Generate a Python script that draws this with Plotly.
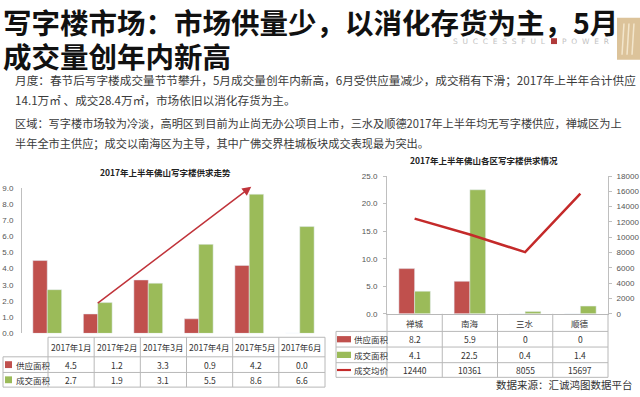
import plotly.graph_objects as go

W, H = 640, 397

# ---------------- data ----------------
months = ['2017年1月', '2017年2月', '2017年3月', '2017年4月', '2017年5月', '2017年6月']
supply_month = [4.5, 1.2, 3.3, 0.9, 4.2, 0.0]
deal_month = [2.7, 1.9, 3.1, 5.5, 8.6, 6.6]
left_ticks = [0, 1, 2, 3, 4, 5, 6, 7, 8, 9]

districts = ['禅城', '南海', '三水', '顺德']
supply_dist = [8.2, 5.9, 0, 0]
deal_dist = [4.1, 22.5, 0.4, 1.4]
price_dist = [12440, 10361, 8055, 15697]
right_ticks = [0, 5, 10, 15, 20, 25]
price_ticks = [0, 2000, 4000, 6000, 8000, 10000, 12000, 14000, 16000, 18000]

series_names = ['供应面积', '成交面积', '成交均价']
trend_arrow_start = (0.97, 1.8)   # (month index, value)
trend_arrow_end = (4.04, 9.06)

title_lines = ['写字楼市场：市场供量少，以消化存货为主，5月', '成交量创年内新高']
body_lines = [
    '月度：春节后写字楼成交量节节攀升，5月成交量创年内新高，6月受供应量减少，成交稍有下滑；2017年上半年合计供应',
    '14.1万㎡ 、成交28.4万㎡，市场依旧以消化存货为主。',
    '区域：写字楼市场较为冷淡，高明区到目前为止尚无办公项目上市，三水及顺德2017年上半年均无写字楼供应，禅城区为上',
    '半年全市主供应；成交以南海区为主导，其中广佛交界桂城板块成交表现最为突出。',
]
left_title = '2017年上半年佛山写字楼供求走势'
right_title = '2017年上半年佛山各区写字楼供求情况'
source_text = '数据来源：汇诚鸿图数据平台'
logo_words = ['S  U  C  C  E  S  S  F  U  L', 'P  O  W  E  R']

# ---------------- style ----------------
RED = '#c0504d'
GREEN = '#9bbb59'
LINE_RED = '#c42a2a'
GRID = '#bfbfbf'
TXT = '#333333'
FONT = 'Noto Sans CJK SC'


def px(x):
    return x / W


def py(y):
    return 1 - y / H


fig = go.Figure()
fig.add_bar(x=months, y=supply_month, marker_color=RED, name=series_names[0],
            xaxis='x', yaxis='y')
fig.add_bar(x=months, y=deal_month, marker_color=GREEN, name=series_names[1],
            xaxis='x', yaxis='y')
fig.add_bar(x=districts, y=supply_dist, marker_color=RED, name=series_names[0],
            xaxis='x2', yaxis='y2')
fig.add_bar(x=districts, y=deal_dist, marker_color=GREEN, name=series_names[1],
            xaxis='x2', yaxis='y2')
fig.add_scatter(x=districts, y=price_dist, mode='lines', name=series_names[2],
                line=dict(color=LINE_RED, width=2.5), xaxis='x2', yaxis='y3')

annotations = []
shapes = []


def label(text, x, y, font, xanchor='center', yanchor='middle'):
    annotations.append(dict(text=text, x=px(x), y=py(y), xref='paper', yref='paper',
                            xanchor=xanchor, yanchor=yanchor, showarrow=False, font=font))


# logo (drawn first, under the title)
label(logo_words[0], 548, 38, dict(family='DejaVu Sans', size=7.5, color='#c2c2c2'), xanchor='right')
label(logo_words[1], 560, 38, dict(family='DejaVu Sans', size=7.5, color='#c2c2c2'), xanchor='left')
shapes.append(dict(type='rect', xref='paper', yref='paper', x0=px(551), x1=px(557),
                   y0=py(41), y1=py(35), fillcolor='#b03a3a', line=dict(width=0)))
shapes.append(dict(type='rect', xref='paper', yref='paper', x0=px(617), x1=px(640),
                   y0=py(57), y1=py(14), fillcolor='#dcc39a', line=dict(width=0)))
for k in range(3):
    shapes.append(dict(type='line', xref='paper', yref='paper', x0=px(622 + 5 * k), x1=px(624 + 5 * k),
                       y0=py(52), y1=py(20), line=dict(color='#f3e6cc', width=1.5)))

# titles
for i, t in enumerate(title_lines):
    label('<b>' + t + '</b>', 1, [18, 53][i],
          dict(family=FONT, size=28.5, color='#111111'), xanchor='left')
body_sizes = [11.65, 11.65, 11.2, 11.2]
for i, t in enumerate(body_lines):
    label(t, 13, [77, 98, 122, 142][i],
          dict(family=FONT, size=body_sizes[i], color='#3a3a3a'), xanchor='left')

# chart titles
label('<b>' + left_title + '</b>', 165, 172, dict(family=FONT, size=8.5, color='#222222'))
label('<b>' + right_title + '</b>', 484, 160, dict(family=FONT, size=8.5, color='#222222'))

# trend arrow
annotations.append(dict(text='', x=trend_arrow_end[0], y=trend_arrow_end[1], xref='x', yref='y',
                        ax=trend_arrow_start[0], ay=trend_arrow_start[1], axref='x', ayref='y',
                        showarrow=True, arrowhead=2, arrowsize=1.2, arrowwidth=1.5,
                        arrowcolor='#c0333a'))

line_style = dict(color='#b8b8b8', width=1)


def hline(y, x0, x1):
    shapes.append(dict(type='line', xref='paper', yref='paper', x0=px(x0), x1=px(x1),
                       y0=py(y), y1=py(y), line=line_style))


def vline(x, y0, y1):
    shapes.append(dict(type='line', xref='paper', yref='paper', x0=px(x), x1=px(x),
                       y0=py(y0), y1=py(y1), line=line_style))


tfont = dict(family=FONT, size=8.5, color=TXT)

# ---------- left data table ----------
L_lab0, L_x0, L_x1 = 3, 48, 325
L_rows = [341, 361, 377, 392]
n = len(months)
cw = (L_x1 - L_x0) / n
hline(L_rows[0], L_x0, L_x1)
for r in L_rows[1:]:
    hline(r, L_lab0, L_x1)
for i in range(n + 1):
    vline(L_x0 + i * cw, L_rows[0], L_rows[-1])
vline(L_lab0, L_rows[1], L_rows[-1])

for i, m in enumerate(months):
    cx = L_x0 + (i + 0.5) * cw
    label(m, cx, (L_rows[0] + L_rows[1]) / 2, tfont)
    label(f'{supply_month[i]:.1f}', cx, (L_rows[1] + L_rows[2]) / 2, tfont)
    label(f'{deal_month[i]:.1f}', cx, (L_rows[2] + L_rows[3]) / 2, tfont)
for j, col in enumerate([RED, GREEN]):
    yc = (L_rows[j + 1] + L_rows[j + 2]) / 2
    shapes.append(dict(type='rect', xref='paper', yref='paper', x0=px(5), x1=px(12),
                       y0=py(yc + 3.5), y1=py(yc - 3.5), fillcolor=col, line=dict(width=0)))
    label(series_names[j], 13.5, yc, tfont, xanchor='left')

# ---------- right data table ----------
R_lab0, R_x0, R_x1 = 336, 387, 608
R_rows = [317, 335, 351, 367, 382]
m4 = len(districts)
rw = (R_x1 - R_x0) / m4
for r in R_rows[1:]:
    hline(r, R_lab0, R_x1)
for i in range(m4 + 1):
    vline(R_x0 + i * rw, R_rows[0], R_rows[-1])
vline(R_lab0, R_rows[1], R_rows[-1])

rows_vals = [[f'{v:g}' for v in supply_dist], [f'{v:g}' for v in deal_dist], [str(v) for v in price_dist]]
for i, d in enumerate(districts):
    cx = R_x0 + (i + 0.5) * rw
    label(d, cx, (R_rows[0] + R_rows[1]) / 2, tfont)
    for k in range(3):
        label(rows_vals[k][i], cx, (R_rows[k + 1] + R_rows[k + 2]) / 2, tfont)
for k, col in enumerate([RED, GREEN, LINE_RED]):
    yc = (R_rows[k + 1] + R_rows[k + 2]) / 2
    hh = 3.2 if k < 2 else 1.1
    shapes.append(dict(type='rect', xref='paper', yref='paper', x0=px(337), x1=px(351),
                       y0=py(yc + hh), y1=py(yc - hh), fillcolor=col, line=dict(width=0)))
    label(series_names[k], 352, yc, tfont, xanchor='left')

label(source_text, 635, 389, dict(family=FONT, size=10.5, color='#333333'), xanchor='right')

tickfont = dict(family='Liberation Sans', size=8, color='#555555')
fig.update_layout(
    width=W, height=H, margin=dict(l=0, r=0, t=0, b=0),
    paper_bgcolor='white', plot_bgcolor='white', showlegend=False,
    barmode='group', bargap=0.43, bargroupgap=0,
    xaxis=dict(domain=[px(22), px(325)], anchor='y', showticklabels=False, showgrid=False,
               showline=False, zeroline=False, ticks=''),
    yaxis=dict(domain=[py(337), py(188)], anchor='x', range=[0, 9], tickvals=left_ticks,
               tickformat='.1f', showgrid=False, zeroline=False, showline=True, linecolor=GRID,
               ticks='', ticklabelstandoff=6, tickfont=tickfont),
    xaxis2=dict(domain=[px(387), px(608)], anchor='y2', showticklabels=False, showgrid=False,
                showline=True, linecolor='#b8b8b8', zeroline=False, ticks=''),
    yaxis2=dict(domain=[py(317), py(176)], anchor='x2', range=[0, 25], tickvals=right_ticks,
                tickformat='.1f', showgrid=False, zeroline=False, showline=True, linecolor=GRID,
                ticks='outside', ticklen=3, tickcolor=GRID, ticklabelstandoff=4, tickfont=tickfont),
    yaxis3=dict(overlaying='y2', side='right', anchor='x2', range=[0, 18000], tickvals=price_ticks,
                tickformat='d', showgrid=False, zeroline=False, showline=True, linecolor=GRID,
                ticks='outside', ticklen=3, tickcolor=GRID, ticklabelstandoff=3, tickfont=tickfont),
    annotations=annotations, shapes=shapes,
)

fig.write_html('out.html', config={'displayModeBar': False},
               post_script="document.body.style.margin='0';document.body.style.overflow='hidden';")
